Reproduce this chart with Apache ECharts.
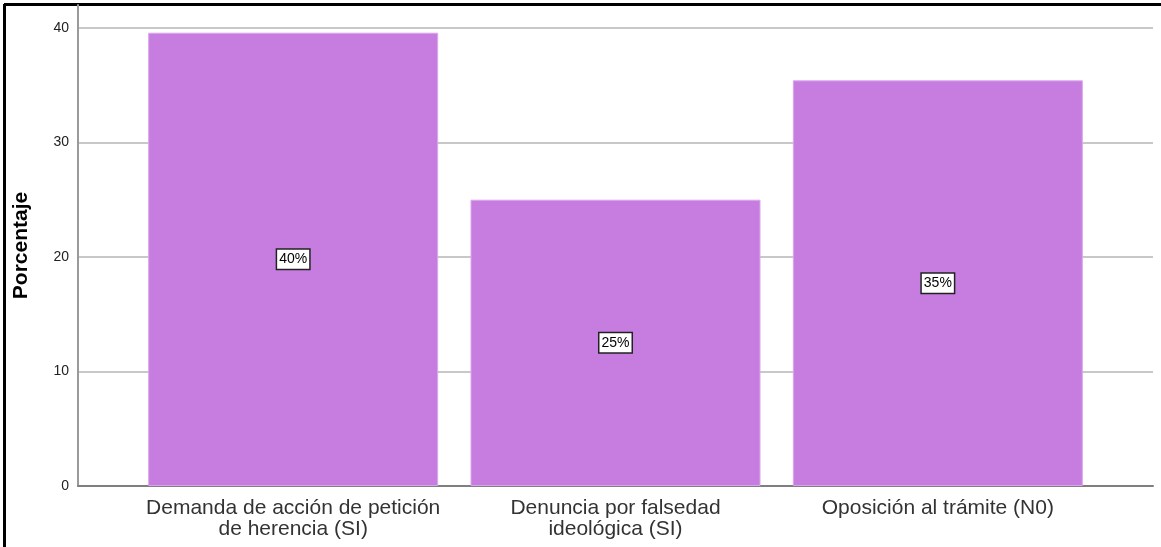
<!DOCTYPE html>
<html>
<head>
<meta charset="utf-8">
<script src="https://cdn.jsdelivr.net/npm/echarts@6/dist/echarts.min.js"></script>
<style>
  html, body { margin: 0; padding: 0; background: #fff; }
  #chart { width: 1161px; height: 547px; }
</style>
</head>
<body>
<div id="chart"></div>
<script>
// Data
var categories = ["Demanda de acción de petición\nde herencia (SI)", "Denuncia por falsedad\nideológica (SI)", "Oposición al trámite (N0)"];
var percentages = [39.58, 25.0, 35.42];
var labelTexts = ["40%", "25%", "35%"];
var yTicks = [0, 10, 20, 30, 40];

var chart = echarts.init(document.getElementById("chart"));

var font = "Liberation Sans, Arial, sans-serif";

var option = {
  animation: false,
  backgroundColor: "#fff",
  grid: [
    // frame grid: axis lines + gridlines
    { left: 78, right: 8, top: 5, bottom: 61 },
    // bar grid
    { left: 132, right: 62, top: 5, bottom: 61 }
  ],
  xAxis: [
    {
      gridIndex: 0, type: "value", min: 0, max: 1,
      axisLine: { show: true, onZero: false, lineStyle: { color: "#7f7f7f", width: 2 } },
      axisTick: { show: false }, axisLabel: { show: false }, splitLine: { show: false }
    },
    {
      gridIndex: 1, type: "category", data: categories,
      axisLine: { show: false }, axisTick: { show: false },
      axisLabel: { interval: 0, hideOverlap: false, color: "#333", fontFamily: font, fontSize: 21, lineHeight: 21, margin: 12 }
    }
  ],
  yAxis: [
    {
      gridIndex: 0, type: "value", min: 0, max: 42, interval: 10,
      name: "Porcentaje", nameLocation: "middle", nameGap: 46,
      nameTextStyle: { color: "#000", fontFamily: font, fontSize: 21, fontWeight: "bold" },
      axisLine: { show: true, lineStyle: { color: "#9a9a9a", width: 2 } },
      axisTick: { show: false },
      axisLabel: {
        color: "#222", fontFamily: font, fontSize: 14, margin: 9,
        formatter: function (v) { return yTicks.indexOf(v) >= 0 ? String(v) : ""; }
      },
      splitLine: { show: true, showMaxLine: false, lineStyle: { color: "#c8c8c8", width: 2 } }
    },
    {
      gridIndex: 1, type: "value", min: 0, max: 42, interval: 10,
      axisLine: { show: false }, axisTick: { show: false },
      axisLabel: { show: false }, splitLine: { show: false }
    }
  ],
  series: [
    {
      type: "bar",
      xAxisIndex: 1, yAxisIndex: 1,
      data: percentages,
      barWidth: 290,
      itemStyle: { color: "#c77de0", borderColor: "#d9a6ec", borderWidth: 1 },
      label: {
        show: true, position: "inside",
        formatter: function (p) { return labelTexts[p.dataIndex]; },
        color: "#000", fontFamily: font, fontSize: 14,
        backgroundColor: "#fff", borderColor: "#222", borderWidth: 1.5,
        padding: [3, 2, 2, 2]
      }
    }
  ],
  graphic: [
    // outer frame (top and left edges)
    { type: "line", shape: { x1: 4, y1: 4.5, x2: 1161, y2: 4.5 }, style: { stroke: "#000", lineWidth: 3 } },
    { type: "line", shape: { x1: 4.5, y1: 4, x2: 4.5, y2: 547 }, style: { stroke: "#000", lineWidth: 3 } }
  ]
};

chart.setOption(option);
</script>
</body>
</html>
